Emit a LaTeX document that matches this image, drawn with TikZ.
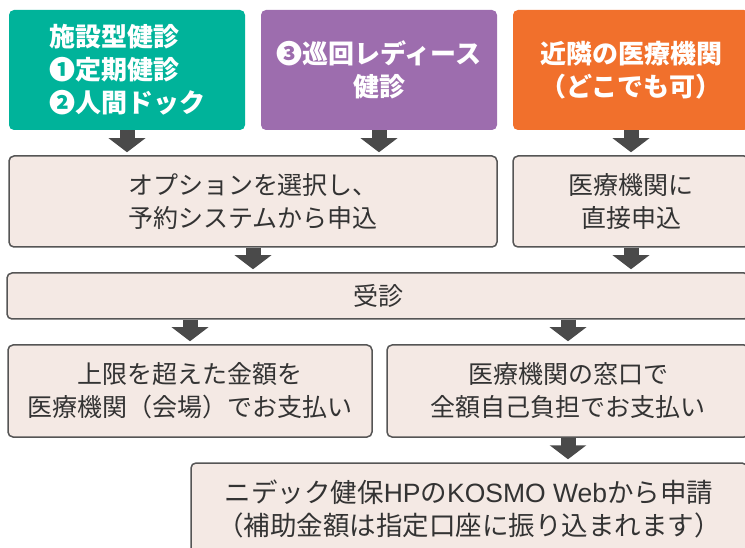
\documentclass[tikz,border=0pt]{standalone}
\usepackage{fontspec}
\setmainfont{Noto Sans CJK JP}
\newfontfamily\latinfont{Liberation Sans}
\usetikzlibrary{arrows.meta}
\definecolor{kgreen}{HTML}{00B39A}
\definecolor{kpurple}{HTML}{9D6DAE}
\definecolor{korange}{HTML}{F1702C}
\definecolor{kfill}{HTML}{F4E9E4}
\definecolor{kline}{HTML}{555555}
\definecolor{ktext}{HTML}{333333}
\definecolor{karrow}{HTML}{4A4A4A}
\begin{document}
\begin{tikzpicture}[x=1pt,y=-1pt,
    topbox/.style={fill=#1,text=white,font=\bfseries\fontsize{26}{33}\selectfont,
      rounded corners=5pt,minimum width=236pt,minimum height=120pt,align=center,inner sep=0pt},
    stepbox/.style={draw=kline,line width=1.5pt,fill=kfill,text=ktext,
      font=\fontsize{25}{33}\selectfont,rounded corners=5pt,align=center,inner sep=0pt},
    flow/.style={karrow,line width=15pt,-{Triangle[width=36pt,length=14pt]},shorten >=3pt}]
        \useasboundingbox (0,0) rectangle (745,548);
        \clip (0,0) rectangle (745,548);
        % top row
        \node[topbox=kgreen,align=left] (facility) at (127,70) {施設型健診\\❶定期健診\\❷人間ドック};
        \node[topbox=kpurple] (ladies) at (379,70) {❸巡回レディース\\健診};
        \node[topbox=korange] (nearby) at (631,70) {近隣の医療機関\\（どこでも可）};
        % steps
        \node[stepbox,minimum width=488pt,minimum height=91pt] (option) at (253,201.5) {オプションを選択し、\\予約システムから申込};
        \node[stepbox,minimum width=236pt,minimum height=91pt] (direct) at (631,201.5) {医療機関に\\直接申込};
        \node[stepbox,minimum width=742pt,minimum height=46pt] (exam) at (378,296) {受診};
        \node[stepbox,minimum width=364pt,minimum height=92pt] (overpay) at (190,391) {上限を超えた金額を\\医療機関（会場）でお支払い};
        \node[stepbox,minimum width=362pt,minimum height=92pt] (fullpay) at (568,391) {医療機関の窓口で\\全額自己負担でお支払い};
        \node[stepbox,minimum width=556pt,minimum height=92pt,font=\fontsize{26.5}{33}\selectfont] (apply) at (469,509)
          {ニデック健保{\latinfont HP}の{\latinfont KOSMO Web}から申請\\（補助金額は指定口座に振り込まれます）};
        % arrows
        \foreach \a/\b in {facility/option,ladies/option,nearby/direct,option/exam,direct/exam,fullpay/apply}{
          \draw[flow] (\a.south) -- (\a.south |- \b.north);
        }
        \foreach \b in {overpay,fullpay}{
          \draw[flow] (exam.south -| \b) -- (\b.north);
        }
      \end{tikzpicture}
\end{document}
